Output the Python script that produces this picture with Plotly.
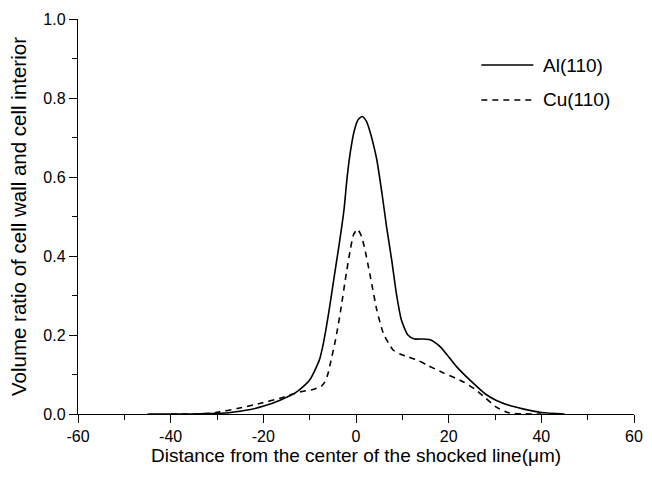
import plotly.graph_objects as go

# Volume ratio profiles across the shocked line
al_x = [-45, -35, -32.6, -29, -27, -23.4, -19.9, -16.4, -12.8, -10, -7.9, -7.2, -6.5,
        -5.8, -4.7, -3.6, -2.6, -1.9, -1.2, -0.4, 0.4, 1.3, 2.2, 3.0, 3.8, 4.5, 5.6,
        6.6, 7.7, 8.7, 9.8, 11.2, 12.6, 14.5, 16, 18.2, 21.7, 25.3, 28, 30.2, 33, 36, 40, 45]
al_y = [0, 0, 0.001, 0.002, 0.004, 0.01, 0.02, 0.035, 0.056, 0.086, 0.137, 0.17, 0.213,
        0.263, 0.348, 0.432, 0.516, 0.601, 0.665, 0.716, 0.744, 0.753, 0.742, 0.716,
        0.68, 0.643, 0.559, 0.474, 0.39, 0.306, 0.238, 0.2, 0.19, 0.19, 0.188, 0.17,
        0.12, 0.078, 0.05, 0.035, 0.022, 0.013, 0.004, 0]

cu_x = [-40, -34, -30.5, -25.6, -20.6, -16.4, -12.1, -9.3, -7.5, -6.8, -6.1, -5.4, -4.3,
        -3.3, -2.2, -1.2, -0.5, 0.3, 1.0, 1.7, 3.1, 4.5, 5.9, 7, 8, 9.5, 11.2, 13.5,
        15.3, 18.9, 23.2, 26, 28, 30.2, 33, 40]
cu_y = [0, 0, 0.003, 0.014, 0.027, 0.04, 0.056, 0.062, 0.07, 0.08, 0.1, 0.135, 0.195,
        0.263, 0.348, 0.418, 0.455, 0.468, 0.455, 0.428, 0.348, 0.263, 0.204, 0.18, 0.162,
        0.152, 0.145, 0.135, 0.124, 0.104, 0.081, 0.06, 0.04, 0.018, 0.003, 0]

series_names = ["Al(110)", "Cu(110)"]
x_ticks = [-60, -40, -20, 0, 20, 40, 60]
x_tick_labels = ["-60", "-40", "-20", "0", "20", "40", "60"]
y_ticks = [0.0, 0.2, 0.4, 0.6, 0.8, 1.0]

FONT = "Liberation Sans, Arial, sans-serif"

fig = go.Figure()
fig.add_trace(go.Scatter(x=al_x, y=al_y, mode="lines", name=series_names[0],
                         line=dict(color="black", width=1.6, shape="spline", smoothing=0.6)))
fig.add_trace(go.Scatter(x=cu_x, y=cu_y, mode="lines", name=series_names[1],
                         line=dict(color="black", width=1.6, dash="6px,5px",
                                   shape="spline", smoothing=0.6)))

axis_common = dict(showline=True, linecolor="black", linewidth=1.4, mirror=False,
                   ticks="outside", ticklen=8, tickwidth=1.3, tickcolor="black",
                   showgrid=False, zeroline=False,
                   tickfont=dict(family=FONT, size=16, color="black"))

fig.update_xaxes(range=[-60, 60], tickvals=x_ticks, ticktext=x_tick_labels,
                 minor=dict(dtick=10, ticks="outside", ticklen=5, tickwidth=1.3,
                            tickcolor="black", showgrid=False),
                 title=dict(text="Distance from the center of the shocked line(\u03bcm)",
                            font=dict(family=FONT, size=19, color="black"), standoff=0),
                 **axis_common)
fig.update_yaxes(range=[0, 1.0], tickvals=y_ticks, tickformat=".1f",
                 minor=dict(dtick=0.1, ticks="outside", ticklen=5, tickwidth=1.3,
                            tickcolor="black", showgrid=False),
                 title=dict(text="Volume ratio of cell wall and cell interior",
                            font=dict(family=FONT, size=20.5, color="black"), standoff=11),
                 **axis_common)

# Legend drawn as line samples with labels in the upper right
legend_rows = [(0.8835, "solid"), (0.795, "6px,5px")]
for (ypos, dash), name in zip(legend_rows, series_names):
    fig.add_shape(type="line", xref="paper", yref="paper", x0=0.7254, x1=0.8191,
                  y0=ypos, y1=ypos, line=dict(color="black", width=1.6, dash=dash))
    fig.add_annotation(xref="paper", yref="paper", x=0.8333, y=ypos, text=name,
                       showarrow=False, xanchor="left", yanchor="middle",
                       font=dict(family=FONT, size=19, color="black"))

fig.update_layout(width=652, height=478, margin=dict(l=78, r=9, t=19, b=64),
                  plot_bgcolor="white", paper_bgcolor="white", showlegend=False,
                  font=dict(family=FONT, color="black"))

fig.write_html("out.html")
